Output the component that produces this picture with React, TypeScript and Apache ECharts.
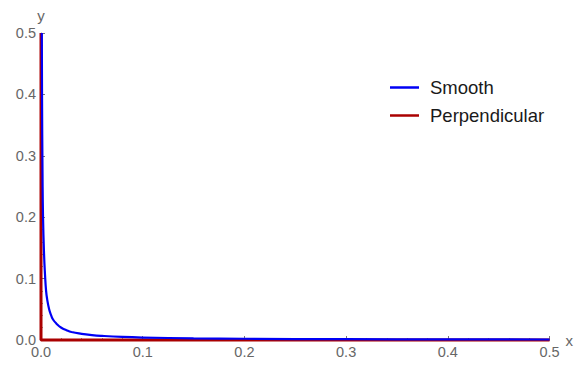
import React, { useEffect, useRef } from "react";
import * as echarts from "echarts";

const smoothX = [0.0008, 0.001, 0.0015, 0.002, 0.003, 0.004, 0.005, 0.006, 0.008, 0.01, 0.012, 0.015, 0.02, 0.025, 0.03, 0.04, 0.05, 0.06, 0.08, 0.1, 0.15, 0.2, 0.3, 0.4, 0.5];
const smoothY = [0.5, 0.4, 0.27, 0.2, 0.14, 0.105, 0.08, 0.067, 0.05, 0.04, 0.033, 0.027, 0.02, 0.016, 0.013, 0.01, 0.008, 0.0067, 0.005, 0.004, 0.0027, 0.002, 0.0013, 0.001, 0.0008];
const perpX = [0, 0, 0.5];
const perpY = [0.5, 0, 0];
const seriesNames = ["Smooth", "Perpendicular"];

export default function App() {
  const ref = useRef<HTMLDivElement>(null);
  useEffect(() => {
    if (!ref.current) return;
    const chart = echarts.init(ref.current, null, { renderer: "svg" });
    const font = "Liberation Sans";
    const axisCommon = {
      type: "value" as const,
      min: 0,
      max: 0.5,
      interval: 0.1,
      axisLine: { show: true, lineStyle: { color: "#888", width: 1 } },
      axisTick: { show: true, inside: true, length: 4, lineStyle: { color: "#777" } },
      minorTick: { show: true, splitNumber: 5, length: 2, lineStyle: { color: "#999" } },
      splitLine: { show: false },
      axisLabel: {
        color: "#666",
        fontSize: 14.5,
        fontFamily: font,
        formatter: (v: number) => v.toFixed(1),
      },
    };
    chart.setOption({
      animation: false,
      grid: { left: 33, right: 22, top: 17, bottom: 22, containLabel: false },
      legend: {
        orient: "vertical",
        left: 377,
        top: 65,
        itemGap: 9,
        itemWidth: 29,
        itemHeight: 2.5,
        icon: "rect",
        data: seriesNames,
        textStyle: { fontSize: 18.5, color: "#1a1a1a", fontFamily: font, padding: [0, 0, 0, 6] },
      },
      xAxis: {
        ...axisCommon,
        name: "x",
        nameGap: 11,
        nameTextStyle: { color: "#666", fontSize: 15, fontFamily: font, verticalAlign: "middle", padding: [6, 0, 0, 0] },
        axisLabel: { ...axisCommon.axisLabel, margin: 4 },
      },
      yAxis: {
        ...axisCommon,
        name: "y",
        nameGap: 10,
        nameTextStyle: { color: "#666", fontSize: 15, fontFamily: font, align: "center" },
        axisLabel: { ...axisCommon.axisLabel, margin: 5 },
      },
      series: [
        {
          name: "Smooth",
          type: "line",
          data: smoothX.map((x, i) => [x, smoothY[i]]),
          smooth: true,
          showSymbol: false,
          clip: false,
          z: 3,
          color: "#0000f5",
          lineStyle: { color: "#0000f5", width: 2.2 },
        },
        {
          name: "Perpendicular",
          type: "line",
          data: perpX.map((x, i) => [x, perpY[i]]),
          showSymbol: false,
          clip: false,
          z: 2,
          color: "#aa0000",
          lineStyle: { color: "#aa0000", width: 3 },
        },
      ],
    });
    return () => chart.dispose();
  }, []);
  return <div ref={ref} style={{ width: 568, height: 354 }} />;
}
